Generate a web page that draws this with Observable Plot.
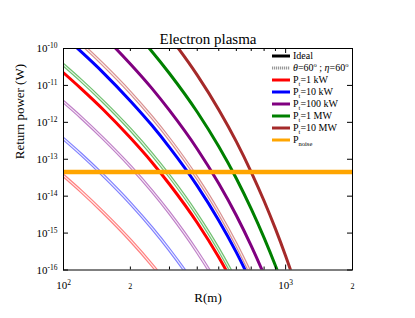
<!DOCTYPE html>
<html><head><meta charset="utf-8">
<script src="https://cdn.jsdelivr.net/npm/d3@7"></script>
<script src="https://cdn.jsdelivr.net/npm/@observablehq/plot@0.6"></script>
<style>
body{margin:0;background:#fff}
svg{font-family:"Liberation Serif","Times New Roman",serif}
</style>
</head><body><div id="chart"></div>
<script>
// Range R (m)
const R = [100, 120, 150, 200, 250, 300, 400, 500, 600, 700, 800, 900, 1000, 1100];

// Ideal return power (W), one array per transmitted power
const ideal_1kW   = [2.2e-11, 8.2e-12, 2.3e-12, 3.8e-13, 8.3e-14, 2.1e-14, 1.9e-15, 2.2e-16, 3.0e-17, 4.5e-18, 7.4e-19, 1.3e-19, 2.4e-20, 4.6e-21];
const ideal_10kW  = [2.2e-10, 8.2e-11, 2.3e-11, 3.8e-12, 8.3e-13, 2.1e-13, 1.9e-14, 2.2e-15, 3.0e-16, 4.5e-17, 7.4e-18, 1.3e-18, 2.4e-19, 4.6e-20];
const ideal_100kW = [2.2e-9, 8.2e-10, 2.3e-10, 3.8e-11, 8.3e-12, 2.1e-12, 1.9e-13, 2.2e-14, 3.0e-15, 4.5e-16, 7.4e-17, 1.3e-17, 2.4e-18, 4.6e-19];
const ideal_1MW   = [2.2e-8, 8.2e-9, 2.3e-9, 3.8e-10, 8.3e-11, 2.1e-11, 1.9e-12, 2.2e-13, 3.0e-14, 4.5e-15, 7.4e-16, 1.3e-16, 2.4e-17, 4.6e-18];
const ideal_10MW  = [2.2e-7, 8.2e-8, 2.3e-8, 3.8e-9, 8.3e-10, 2.1e-10, 1.9e-11, 2.2e-12, 3.0e-13, 4.5e-14, 7.4e-15, 1.3e-15, 2.4e-16, 4.6e-17];

// theta = 60 deg ; eta = 60 deg
const tilt_1kW   = [3.6e-14, 1.36e-14, 3.8e-15, 6.4e-16, 1.38e-16, 3.5e-17, 3.1e-18, 3.6e-19, 4.9e-20, 7.4e-21, 1.2e-21, 2.1e-22, 4.0e-23, 7.6e-24];
const tilt_10kW  = [3.6e-13, 1.36e-13, 3.8e-14, 6.4e-15, 1.38e-15, 3.5e-16, 3.1e-17, 3.6e-18, 4.9e-19, 7.4e-20, 1.2e-20, 2.1e-21, 4.0e-22, 7.6e-23];
const tilt_100kW = [3.6e-12, 1.36e-12, 3.8e-13, 6.4e-14, 1.38e-14, 3.5e-15, 3.1e-16, 3.6e-17, 4.9e-18, 7.4e-19, 1.2e-19, 2.1e-20, 4.0e-21, 7.6e-22];
const tilt_1MW   = [3.6e-11, 1.36e-11, 3.8e-12, 6.4e-13, 1.38e-13, 3.5e-14, 3.1e-15, 3.6e-16, 4.9e-17, 7.4e-18, 1.2e-18, 2.1e-19, 4.0e-20, 7.6e-21];
const tilt_10MW  = [3.6e-10, 1.36e-10, 3.8e-11, 6.4e-12, 1.38e-12, 3.5e-13, 3.1e-14, 3.6e-15, 4.9e-16, 7.4e-17, 1.2e-17, 2.1e-18, 4.0e-19, 7.6e-20];

const noisePower = 4.5e-14;

const powerLabels = ["1 kW", "10 kW", "100 kW", "1 MW", "10 MW"];
const idealSeries = [ideal_1kW, ideal_10kW, ideal_100kW, ideal_1MW, ideal_10MW];
const tiltSeries  = [tilt_1kW, tilt_10kW, tilt_100kW, tilt_1MW, tilt_10MW];
const colors      = ["#ff0000", "#0000ff", "#800080", "#008000", "#a52a2a"];
const lightColors = ["#ff8080", "#8080ff", "#c080c8", "#70c070", "#d89090"];

const xMajorTicks = [100, 1000];
const xMinorTicks = [200, 300, 400, 500, 600, 700, 800, 900, 2000];
const xMinorLabels = [200, 500, 2000];
const yTicks = [1e-16, 1e-15, 1e-14, 1e-13, 1e-12, 1e-11, 1e-10];

const W = 415, H = 318, mL = 63, mR = 63, mT = 48, mB = 48.5;
const fw = W - mL - mR, fh = H - mT - mB;

const rows = (arr, label) => R.map((r, i) => ({R: r, P: arr[i], power: label}));

const marks = [];
tiltSeries.forEach((s, i) => {
  const d = rows(s, powerLabels[i]);
  marks.push(Plot.line(d, {x: "R", y: "P", stroke: lightColors[i], strokeWidth: 3.4, curve: "monotone-x", clip: true}));
  marks.push(Plot.line(d, {x: "R", y: "P", stroke: "#fff", strokeWidth: 1.1, strokeOpacity: 0.85, curve: "monotone-x", clip: true}));
});
idealSeries.forEach((s, i) => {
  marks.push(Plot.line(rows(s, powerLabels[i]), {x: "R", y: "P", stroke: colors[i], strokeWidth: 3, curve: "monotone-x", clip: true}));
});
marks.push(Plot.ruleY([noisePower], {stroke: "#ffa500", strokeWidth: 4.5}));
marks.push(Plot.frame({stroke: "#000", strokeWidth: 1}));
// inward ticks
marks.push(Plot.ruleX(xMajorTicks, {x: d => d, insetTop: fh - 5, stroke: "#000"}));
marks.push(Plot.ruleX(xMajorTicks, {x: d => d, insetBottom: fh - 5, stroke: "#000"}));
marks.push(Plot.ruleX(xMinorTicks, {x: d => d, insetTop: fh - 3, stroke: "#000"}));
marks.push(Plot.ruleX(xMinorTicks, {x: d => d, insetBottom: fh - 3, stroke: "#000"}));
marks.push(Plot.ruleY(yTicks, {y: d => d, insetRight: fw - 5, stroke: "#000"}));
marks.push(Plot.ruleY(yTicks, {y: d => d, insetLeft: fw - 5, stroke: "#000"}));
// labels
marks.push(Plot.axisX(xMajorTicks, {label: null, tickSize: 0, tickPadding: 11, fontSize: 11, tickFormat: d => `10^${Math.round(Math.log10(d))}`}));
marks.push(Plot.axisX(xMinorLabels, {label: null, tickSize: 0, tickPadding: 13.5, fontSize: 8, tickFormat: d => String(Math.round(d / 10 ** Math.floor(Math.log10(d))))}));
marks.push(Plot.axisY(yTicks, {label: null, tickSize: 0, tickPadding: 6, fontSize: 11, tickFormat: d => `10^${Math.round(Math.log10(d))}`}));
marks.push(Plot.text(["Electron plasma"], {frameAnchor: "top", dy: -15, fontSize: 15, fill: "#000"}));
marks.push(Plot.text(["Return power (W)"], {frameAnchor: "left", dx: -44, rotate: -90, fontSize: 13, fill: "#000"}));
marks.push(Plot.text(["R(m)"], {frameAnchor: "bottom", dy: 32, fontSize: 13, fill: "#000"}));

const plot = Plot.plot({
  width: W, height: H,
  marginLeft: mL, marginRight: mR, marginTop: mT, marginBottom: mB,
  style: {fontFamily: '"Liberation Serif", serif', color: "#000", background: "#fff"},
  x: {type: "log", domain: [100, 2000], axis: null, label: null},
  y: {type: "log", domain: [1e-16, 1e-10], axis: null, label: null},
  marks
});
document.getElementById("chart").appendChild(plot);

const svg = d3.select(plot);
// superscripts for 10^n labels
svg.selectAll("text").each(function () {
  const t = d3.select(this);
  const m = t.text().match(/^10\^(-?\d+)$/);
  if (m) {
    t.text(null);
    t.append("tspan").text("10");
    t.append("tspan").attr("dy", "-0.5em").attr("font-size", "0.68em").text(m[1]);
  }
});

// legend (layout in pixels)
const legend = [
  {parts: [["Ideal", ""]], stroke: "#000", w: 3},
  {parts: [["θ", "i"], ["=60", ""], ["o", "sup"], [" ; ", ""], ["η", "i"], ["=60", ""], ["o", "sup"]], stroke: "#999", w: 3, dash: "1.2,0.8"},
  ...powerLabels.map((p, i) => ({parts: [["P", ""], ["t", "sub"], ["=" + p, ""]], stroke: colors[i], w: 3})),
  {parts: [["P", ""], ["noise", "sub"]], stroke: "#ffa500", w: 3}
];
const lg = svg.append("g").attr("font-size", 10).attr("fill", "#000").attr("text-anchor", "start");
legend.forEach((it, i) => {
  const y = 56 + 12 * i;
  const ln = lg.append("line").attr("x1", 272).attr("x2", 290).attr("y1", y).attr("y2", y)
    .attr("stroke", it.stroke).attr("stroke-width", it.w);
  if (it.dash) ln.attr("stroke-dasharray", it.dash);
  const tx = lg.append("text").attr("x", 293).attr("y", y + 3.4).attr("text-anchor", "start");
  let shift = 0;
  it.parts.forEach(([s, k]) => {
    const sp = tx.append("tspan").text(s);
    if (k === "i") sp.attr("font-style", "italic");
    if (k === "sup") { sp.attr("font-size", "0.65em").attr("dy", -4 - shift); shift = -4; }
    else if (k === "sub") { sp.attr("font-size", "0.65em").attr("dy", 2.5 - shift); shift = 2.5; }
    else { sp.attr("dy", -shift); shift = 0; }
  });
});
</script>
</body></html>
